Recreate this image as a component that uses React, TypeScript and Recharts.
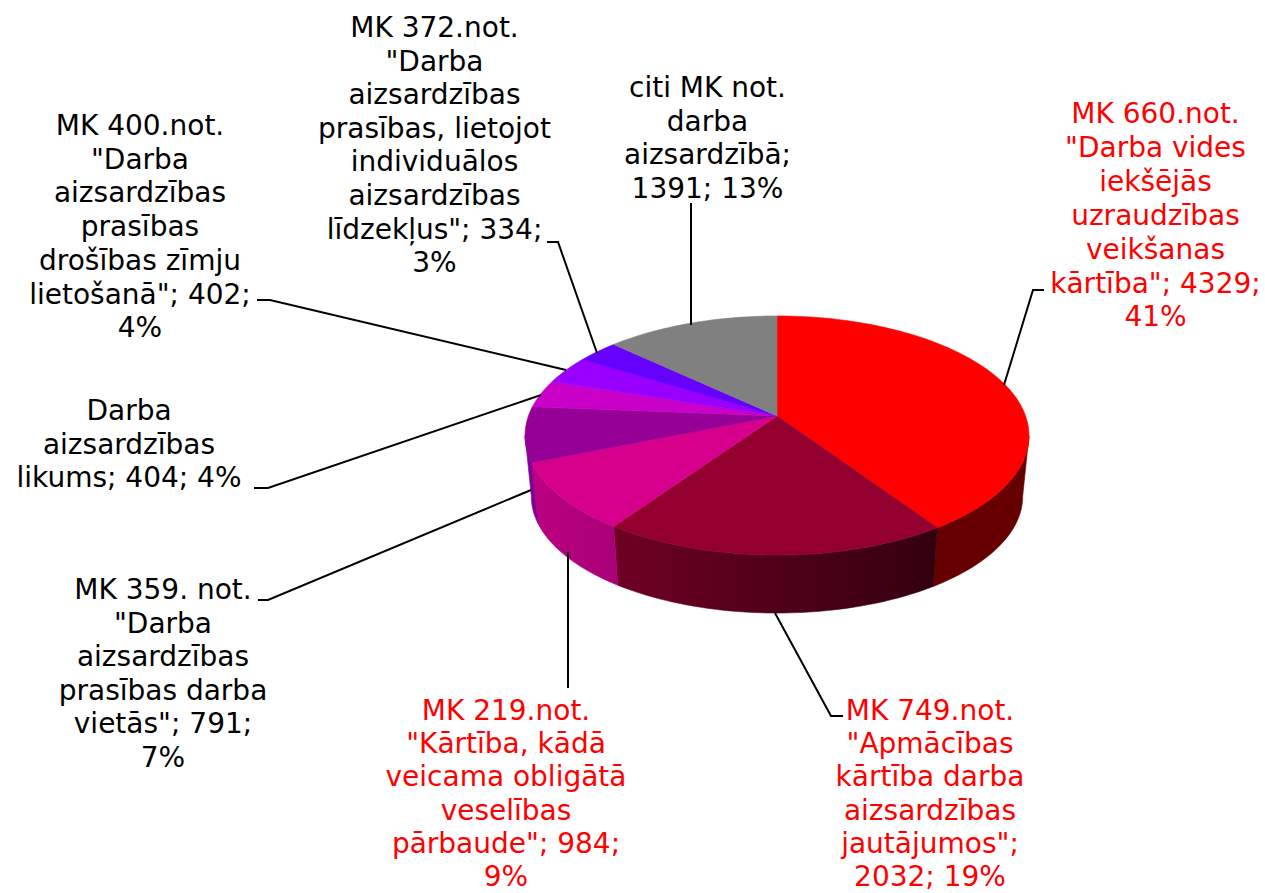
import { PieChart, Pie } from 'recharts';

const names = [
  'MK 660.not.',
  'MK 749.not.',
  'MK 219.not.',
  'MK 359. not.',
  'Darba aizsardzības likums',
  'MK 400.not.',
  'MK 372.not.',
  'citi MK not.',
];
const values = [4329, 2032, 984, 791, 404, 402, 334, 1391];
const colors = ['#ff0000', '#930030', '#d6008c', '#960096', '#c800c8', '#9900ff', '#6600ff', '#808080'];

// wall shading, left and right end of each slice's side
const wallColors = [
  ['#660000', '#660000'],
  ['#6e0024', '#33000f'],
  ['#bc0080', '#a80078'],
  ['#800098', '#800098'],
  ['#6a006a', '#6a006a'],
  ['#500080', '#500080'],
  ['#300080', '#300080'],
  ['#404040', '#404040'],
];

const labelLines = [
  ['MK 660.not.', '"Darba vides', 'iekšējās', 'uzraudzības', 'veikšanas', 'kārtība"; 4329;', '41%'],
  ['MK 749.not.', '"Apmācības', 'kārtība darba', 'aizsardzības', 'jautājumos";', '2032; 19%'],
  ['MK 219.not.', '"Kārtība, kādā', 'veicama obligātā', 'veselības', 'pārbaude"; 984;', '9%'],
  ['MK 359. not.', '"Darba', 'aizsardzības', 'prasības darba', 'vietās"; 791;', '7%'],
  ['Darba', 'aizsardzības', 'likums; 404; 4%'],
  ['MK 400.not.', '"Darba', 'aizsardzības', 'prasības', 'drošības zīmju', 'lietošanā"; 402;', '4%'],
  ['MK 372.not.', '"Darba', 'aizsardzības', 'prasības, lietojot', 'individuālos', 'aizsardzības', 'līdzekļus"; 334;', '3%'],
  ['citi MK not.', 'darba', 'aizsardzībā;', '1391; 13%'],
];
const labelColors = ['#ff0000', '#ff0000', '#ff0000', '#000', '#000', '#000', '#000', '#000'];

// label placement: centre x, first baseline, line gap, leader polyline
const labelLayout = [
  { x: 1155.5, y: 123, gap: 33.9, line: '1044,290 1033,290 1004,385' },
  { x: 930, y: 720, gap: 33.2, line: '843,716 831,716 775,613' },
  { x: 506, y: 720, gap: 33.2, line: '568,688 568,552' },
  { x: 163, y: 599, gap: 33.6, line: '258,600 268,600 531,490' },
  { x: 129, y: 420, gap: 33.6, line: '254,488 268,488 541,395' },
  { x: 140, y: 135, gap: 33.7, line: '257,300 270,300 566,370' },
  { x: 434.5, y: 37, gap: 33.6, line: '547,242 558,242 597,353' },
  { x: 707.5, y: 97, gap: 33.6, line: '691,203 691,325' },
];

const chartData = names.map((name, i) => ({ name, value: values[i], fill: colors[i] }));

// perspective of the disc
const TILT = 0.163;
const SQUASH = 0.468;
const WALL_SCALE = 0.975;
const WALL_DROP = 61.5;
const WALL_FROM = 99.4;
const WALL_TO = 260.6;

function project(cx: number, cy: number, r: number, deg: number, scale = 1, drop = 0) {
  const t = (deg * Math.PI) / 180;
  const u = Math.sin(t);
  const v = -Math.cos(t);
  const d = 1 - TILT * v;
  return [cx + (scale * r * u) / d, cy + drop + (scale * r * SQUASH * v) / d];
}

function arcPoints(cx: number, cy: number, r: number, a: number, b: number, scale = 1, drop = 0) {
  const steps = Math.max(2, Math.ceil(Math.abs(b - a) / 1.5));
  const pts: number[][] = [];
  for (let i = 0; i <= steps; i++) {
    pts.push(project(cx, cy, r, a + ((b - a) * i) / steps, scale, drop));
  }
  return pts;
}

const toPath = (pts: number[][]) =>
  pts.map((p, i) => `${i ? 'L' : 'M'}${p[0].toFixed(2)},${p[1].toFixed(2)}`).join(' ');

function DiscSlice(props: any) {
  const { cx, cy, outerRadius, startAngle, endAngle, fill, index } = props;
  const a = 90 - startAngle;
  const b = 90 - endAngle;
  const top = arcPoints(cx, cy, outerRadius, a, b);
  const from = Math.max(a, WALL_FROM);
  const to = Math.min(b, WALL_TO);
  let wall = null;
  if (to > from) {
    const upper = arcPoints(cx, cy, outerRadius, from, to);
    const lower = arcPoints(cx, cy, outerRadius, to, from, WALL_SCALE, WALL_DROP);
    const xs = upper.concat(lower).map((p) => p[0]);
    const id = `wall-${index}`;
    wall = (
      <>
        <defs>
          <linearGradient id={id} gradientUnits="userSpaceOnUse" x1={Math.min(...xs)} x2={Math.max(...xs)} y1={0} y2={0}>
            <stop offset="0" stopColor={wallColors[index][0]} />
            <stop offset="1" stopColor={wallColors[index][1]} />
          </linearGradient>
        </defs>
        <path d={`${toPath(upper.concat(lower))} Z`} fill={`url(#${id})`} stroke={`url(#${id})`} strokeWidth={0.6} />
      </>
    );
  }
  return (
    <g>
      {wall}
      <path d={`M${cx},${cy} ${toPath(top).replace('M', 'L')} Z`} fill={fill} stroke={fill} strokeWidth={0.6} />
    </g>
  );
}

function SliceLabel(props: any) {
  const { index } = props;
  const place = labelLayout[index];
  return (
    <g>
      <polyline points={place.line} fill="none" stroke="#000" strokeWidth={2} />
      <text
        x={place.x}
        y={place.y}
        textAnchor="middle"
        fontFamily="'DejaVu Sans', sans-serif"
        fontSize={28}
        fill={labelColors[index]}
      >
        {labelLines[index].map((line, i) => (
          <tspan key={i} x={place.x} dy={i === 0 ? 0 : place.gap}>
            {line}
          </tspan>
        ))}
      </text>
    </g>
  );
}

export default function App() {
  return (
    <div style={{ position: 'absolute', left: 0, top: 0, width: 1265, height: 893, background: '#fff' }}>
      <PieChart width={1265} height={893} margin={{ top: 0, right: 0, bottom: 0, left: 0 }}>
        <Pie
          data={chartData}
          dataKey="value"
          nameKey="name"
          cx={777}
          cy={416}
          outerRadius={248.6}
          startAngle={90}
          endAngle={-270}
          stroke="none"
          shape={DiscSlice}
          label={SliceLabel}
          labelLine={false}
          isAnimationActive={false}
        />
      </PieChart>
    </div>
  );
}
